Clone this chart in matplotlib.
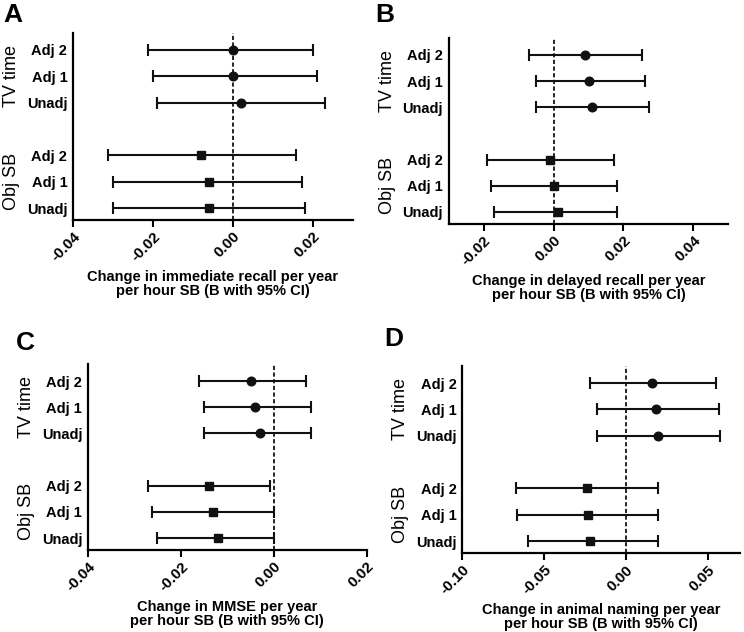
#!/usr/bin/env python3
# -*- coding: utf-8 -*-

import matplotlib
matplotlib.use('Agg')
import matplotlib.pyplot as plt

plt.rcParams['font.family'] = ['Liberation Sans', 'DejaVu Sans']

row_labels = ["Adj 2", "Adj 1", "Unadj", "Adj 2", "Adj 1", "Unadj"]
row_pos = [6, 5, 4, 2, 1, 0]

# estimates and 95% CI, order: TV Adj2, Adj1, Unadj, Obj Adj2, Adj1, Unadj
a_est = [0.0, 0.0, 0.0021, -0.008, -0.006, -0.006]
a_lo = [-0.0211, -0.020, -0.019, -0.0311, -0.030, -0.030]
a_hi = [0.020, 0.0211, 0.0232, 0.0159, 0.0172, 0.018]

b_est = [0.0091, 0.0102, 0.0111, -0.001, 0.0002, 0.0012]
b_lo = [-0.0070, -0.0049, -0.0049, -0.0189, -0.0179, -0.0169]
b_hi = [0.0252, 0.0262, 0.0272, 0.0172, 0.0182, 0.0182]

c_est = [-0.0049, -0.0040, -0.0029, -0.0140, -0.0130, -0.0120]
c_lo = [-0.0161, -0.0151, -0.0151, -0.0271, -0.0261, -0.0251]
c_hi = [0.0070, 0.0081, 0.0081, -0.0009, 0.0, 0.0]

d_est = [0.016, 0.0188, 0.020, -0.0239, -0.0231, -0.0221]
d_lo = [-0.0219, -0.0176, -0.0176, -0.067, -0.0662, -0.0599]
d_hi = [0.055, 0.0571, 0.0579, 0.0198, 0.0198, 0.0198]

a_ticks = [-0.04, -0.02, 0.00, 0.02]
b_ticks = [-0.02, 0.00, 0.02, 0.04]
c_ticks = [-0.04, -0.02, 0.00, 0.02]
d_ticks = [-0.10, -0.05, 0.00, 0.05]

panels = [
    ("A", a_est, a_lo, a_hi, a_ticks, (-0.04, 0.03),
     "Change in immediate recall per year\nper hour SB (B with 95% CI)",
     [0.098, 0.652, 0.376, 0.296], (0.004, 0.995)),
    ("B", b_est, b_lo, b_hi, b_ticks, (-0.03, 0.05),
     "Change in delayed recall per year\nper hour SB (B with 95% CI)",
     [0.603, 0.646, 0.376, 0.294], (0.504, 0.995)),
    ("C", c_est, c_lo, c_hi, c_ticks, (-0.04, 0.02),
     "Change in MMSE per year\nper hour SB (B with 95% CI)",
     [0.118, 0.130, 0.375, 0.294], (0.022, 0.476)),
    ("D", d_est, d_lo, d_hi, d_ticks, (-0.10, 0.07),
     "Change in animal naming per year\nper hour SB (B with 95% CI)",
     [0.621, 0.125, 0.374, 0.296], (0.516, 0.482)),
]

fig = plt.figure(figsize=(7.44, 6.32), dpi=100)

for letter, est, lo, hi, ticks, xlim, xlabel, rect, lpos in panels:
    ax = fig.add_axes(rect)
    ax.axvline(0, color="black", linestyle=(0, (2.5, 1.5)), lw=1.2, zorder=1)
    for i in range(6):
        err = [[est[i] - lo[i]], [hi[i] - est[i]]]
        ax.errorbar(est[i], row_pos[i], xerr=err,
                    fmt="o" if i < 3 else "s", color="#111111",
                    ms=6.2, elinewidth=1.5,
                    capsize=4.5, capthick=1.5, zorder=3)
    ax.set_xlim(*xlim)
    ax.set_ylim(-0.45, 6.65)
    ax.set_xticks(ticks)
    ax.set_xticklabels(["%.2f" % t for t in ticks], rotation=45,
                       ha="right", rotation_mode="anchor",
                       fontweight="bold", fontsize=11)
    ax.set_yticks(row_pos)
    ax.set_yticklabels(row_labels, fontweight="bold", fontsize=10.5)
    ax.tick_params(axis="y", length=0, pad=4)
    ax.tick_params(axis="x", length=5, width=1.5, pad=2)
    for s in ("top", "right"):
        ax.spines[s].set_visible(False)
    for s in ("left", "bottom"):
        ax.spines[s].set_linewidth(1.6)
    ax.set_xlabel(xlabel, fontweight="bold", fontsize=10.5, labelpad=4,
                  linespacing=1.05)

    trans = ax.get_yaxis_transform()
    ax.text(-0.22, 5, "TV time", rotation=90, transform=trans,
            ha="center", va="center", fontsize=13)
    ax.text(-0.22, 1, "Obj SB", rotation=90, transform=trans,
            ha="center", va="center", fontsize=13)

    fig.text(lpos[0], lpos[1], letter, fontsize=19, fontweight="bold",
             ha="left", va="top")

plt.savefig("out.png", dpi=100)
